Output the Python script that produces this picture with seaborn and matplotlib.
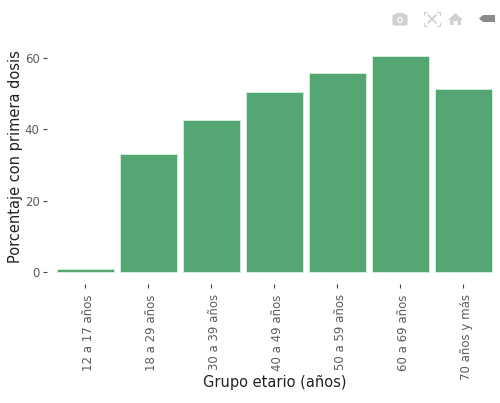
import matplotlib
matplotlib.use("Agg")
import matplotlib.pyplot as plt
import matplotlib.patches as mpatches
from matplotlib.transforms import ScaledTranslation
import pandas as pd
import seaborn as sns

# values
grupos = ["12 a 17 años", "18 a 29 años", "30 a 39 años", "40 a 49 años",
          "50 a 59 años", "60 a 69 años", "70 años y más"]
porcentaje = [0.7, 33.1, 42.5, 50.6, 55.7, 60.5, 51.2]
yticks = [0, 20, 40, 60]

df = pd.DataFrame({"grupo": grupos, "pct": porcentaje})

sns.set_theme(style="white")
plt.rcParams["font.family"] = ["DejaVu Sans"]

fig = plt.figure(figsize=(5, 4.03), dpi=100)
# axes box in pixels: left 47, right 495, top 40, bottom 284
ax = fig.add_axes([47 / 500, (403 - 284) / 403, 448 / 500, 244 / 403])

sns.barplot(data=df, x="grupo", y="pct", color="#54a672", saturation=1,
            width=0.9, edgecolor="#d5ecdd", linewidth=0.7, ax=ax)

ax.set_xlim(-0.611, 6.5)
ax.set_ylim(-3.45, 65.1)
ax.set_yticks(yticks)
sns.despine(ax=ax, left=True, bottom=True)
ax.tick_params(axis="both", which="major", length=2.9, width=0.8, color="#444444",
               labelcolor="#5c5c5c", labelsize=8.5, pad=2.5, left=True, bottom=True)
ax.tick_params(axis="x", labelrotation=90, pad=4.5)

# the rotated labels sit a little right of their ticks
shift = ScaledTranslation(3 / 100, 0, fig.dpi_scale_trans)
for item in ax.get_xticklabels():
    item.set_transform(item.get_transform() + shift)

ax.set_xlabel("Grupo etario (años)", fontsize=10.5, color="#222222")
ax.set_ylabel("Porcentaje con primera dosis", fontsize=10.5, color="#222222")
ax.xaxis.set_label_coords(274.5 / 500, (403 - 383) / 403, transform=fig.transFigure)
ax.yaxis.set_label_coords(16 / 500, (403 - 157) / 403, transform=fig.transFigure)
ax.xaxis.label.set_verticalalignment("center")
ax.yaxis.label.set_verticalalignment("center")

# toolbar icons on top, in pixel coordinates
ov = fig.add_axes([0, 0, 1, 1])
ov.set_xlim(0, 500)
ov.set_ylim(403, 0)
ov.axis("off")
icon = "#d0d0d0"
ov.add_patch(mpatches.FancyBboxPatch((393, 15), 14, 10, boxstyle="round,pad=0.5,rounding_size=1.5", fc=icon, ec="none"))
ov.add_patch(mpatches.Rectangle((396, 13), 8, 3, fc=icon, ec="none"))
ov.add_patch(mpatches.Circle((400, 20), 3, fc="white", ec="none"))
ov.add_patch(mpatches.Circle((400, 20), 1.7, fc=icon, ec="none"))
for x0, x1, y0, y1 in [(424, 427, 12, 12), (424, 424, 12, 15), (437, 440, 12, 12), (440, 440, 12, 15),
                       (424, 427, 26, 26), (424, 424, 23, 26), (437, 440, 26, 26), (440, 440, 23, 26)]:
    ov.plot([x0, x1], [y0, y1], color=icon, lw=0.8)
ov.plot([428, 436], [15, 23], color=icon, lw=1.3)
ov.plot([428, 436], [23, 15], color=icon, lw=1.3)
ov.add_patch(mpatches.Polygon([(448, 20), (455.5, 13), (463, 20), (461, 20), (461, 25), (457.5, 25),
                               (457.5, 21), (453.5, 21), (453.5, 25), (450, 25), (450, 20)], fc=icon, ec="none"))
ov.add_patch(mpatches.Polygon([(479, 18.5), (483, 15), (495, 15), (495, 22), (483, 22)], fc="#8a8a8a", ec="none"))

fig.savefig("out.png", dpi=100)
